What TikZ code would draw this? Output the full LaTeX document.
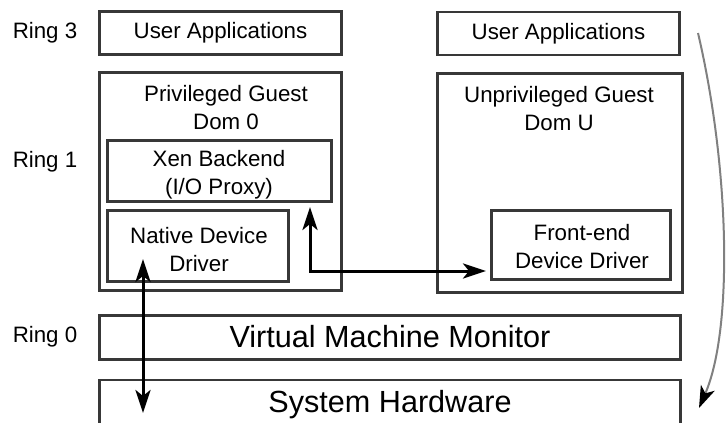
\documentclass[tikz,border=0pt]{standalone}
\usepackage{fontspec}
\setmainfont{Liberation Sans}
\usetikzlibrary{arrows.meta}
\begin{document}
\begin{tikzpicture}[x=1pt,y=-1pt,
  box/.style={draw=black!78,line width=2.7pt,rectangle,inner sep=0pt},
  txt/.style={align=center,inner sep=0pt,font=\fontsize{22.3}{28.5}\selectfont},
  bigtxt/.style={inner sep=0pt,font=\fontsize{30.6}{36}\selectfont},
  arr/.style={line width=3pt,black,{Stealth[length=23pt,width=15pt,inset=6pt]}-{Stealth[length=23pt,width=15pt,inset=6pt]}},
  garr/.style={line width=2pt,black!50,-{Stealth[length=22pt,width=15pt,inset=6pt,black]}}]
\useasboundingbox (0,0) rectangle (726,423);
\clip (0,0) rectangle (726,423);
% boxes
\node[box,minimum width=242pt,minimum height=43pt] (ua1) at (220.5,33) {};
\node[box,minimum width=242pt,minimum height=43pt] (ua2) at (558.5,33.5) {};
\node[box,minimum width=242pt,minimum height=218pt] (dom0) at (220.5,181.5) {};
\node[box,minimum width=245pt,minimum height=219pt] (domu) at (560,183) {};
\node[box,minimum width=224pt,minimum height=61pt] (xen) at (219.5,171) {};
\node[box,minimum width=181pt,minimum height=71pt] (nat) at (198,246) {};
\node[box,minimum width=179pt,minimum height=69pt] (fe) at (581,245) {};
\node[box,minimum width=581pt,minimum height=44pt] (vmm) at (390,337.5) {};
\node[box,minimum width=581pt,minimum height=70pt] (hw) at (390,415) {};
% texts
\node[txt] (ua1t) at (ua1) {User Applications};
\node[txt] (ua2t) at (ua2) {User Applications};
\node[txt] (dom0t) at (226,107.5) {Privileged Guest\\Dom 0};
\node[txt] (domut) at (559,108.5) {Unprivileged Guest\\Dom U};
\node[txt] (xent) at (219,174.5) {Xen Backend\\(I/O Proxy)};
\node[txt] (natt) at (199,249.5) {Native Device\\Driver};
\node[txt] (fet) at (582,246.5) {Front-end\\Device Driver};
\node[bigtxt] (vmmt) at (390,337) {Virtual Machine Monitor};
\node[bigtxt] (hwt) at (390,405) {System Hardware};
\node[txt] (r3) at (45,33) {Ring 3};
\node[txt] (r1) at (45,162) {Ring 1};
\node[txt] (r0) at (45,337) {Ring 0};
% connectors
\coordinate (xa) at (310,207);
\coordinate (fa) at (486,271);
\draw[arr] (xa) |- (fa);
\coordinate (na) at (143,259);
\coordinate (ha) at (143,413);
\draw[arr] (na) -- (ha);
\coordinate (ga) at (698,33);
\coordinate (gb) at (699,408);
\draw[garr] (ga) .. controls (730,170) and (733,330) .. (gb);
\end{tikzpicture}
\end{document}
